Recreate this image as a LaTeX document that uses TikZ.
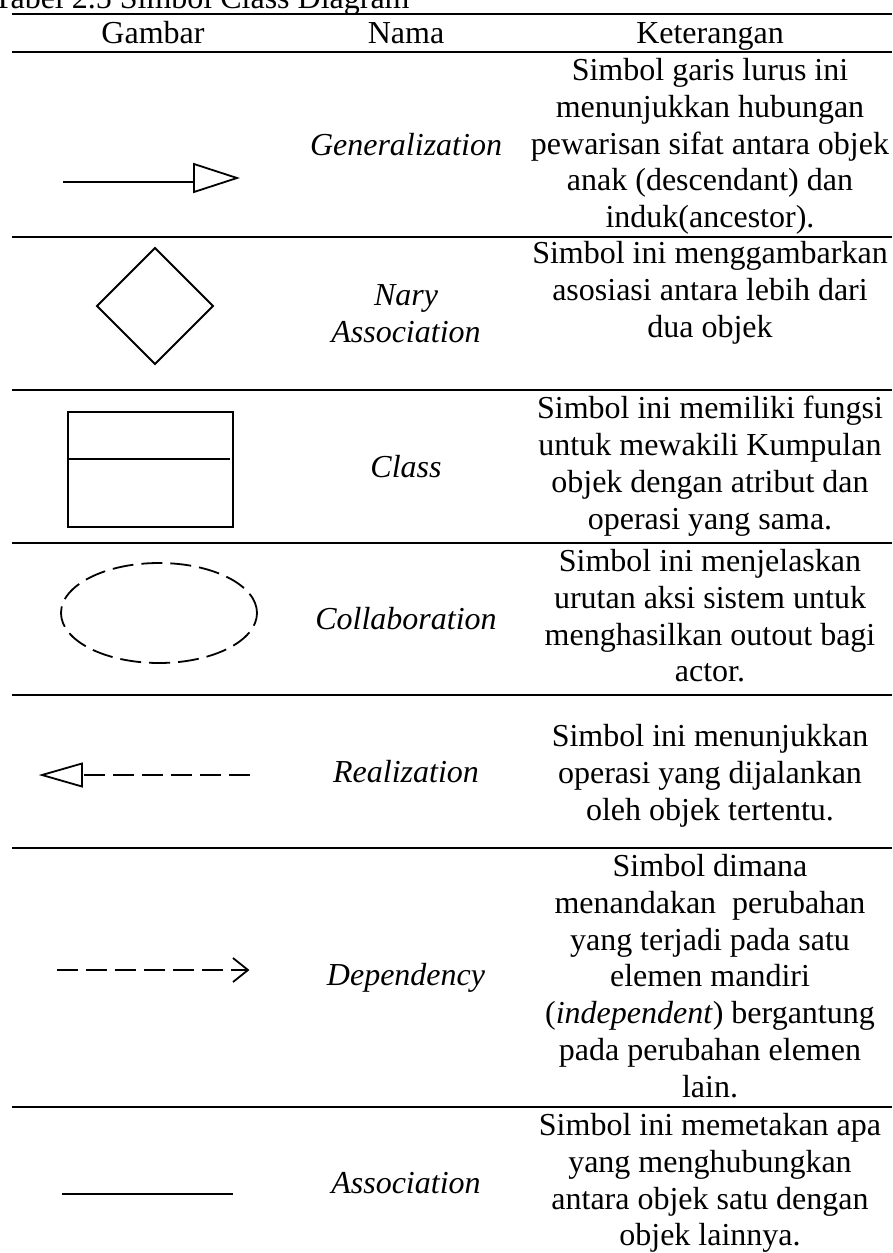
\documentclass[tikz,border=0pt]{standalone}
\usepackage{fontspec}
\setmainfont{Liberation Serif}
\begin{document}
\begin{tikzpicture}[x=1pt,y=-1pt,
  rule/.style={line width=2.2pt},
  sym/.style={line width=1.8pt},
  putus/.style={sym,dash pattern=on 21pt off 8pt},
  teks/.style={inner sep=0pt,font=\fontsize{32}{36.8}\selectfont},
  ket/.style={teks,align=center,anchor=north},
  nama/.style={teks,align=center,font=\fontsize{32}{36.8}\selectfont\itshape}]
\useasboundingbox (0,0) rectangle (892,1253);
\clip (0,0) rectangle (892,1253);
\def\kiri{12}
\def\kanan{892}
\def\kg{153}
\def\kn{406}
\def\kk{710}

\foreach \y in {14,52,237,390,543,695,848,1107}
  \draw[rule] (\kiri,\y) -- (\kanan,\y);

\node[teks,anchor=base west] (judul) at (-7,8) {Tabel 2.5 Simbol Class Diagram};
\node[teks,anchor=base] (gambar) at (\kg,43) {Gambar};
\node[teks,anchor=base] (namakol) at (\kn,43) {Nama};
\node[teks,anchor=base] (ketkol) at (\kk,43) {Keterangan};

% simbol
\coordinate (g0) at (63,182);
\coordinate (g1) at (194,182);
\draw[sym] (g0) -- (g1);
\draw[sym] (194,164) -- (237,178) -- (194,192) -- cycle;

\draw[sym] (155,248) -- (213,306) -- (155,364) -- (97,306) -- cycle;

\draw[sym] (68,412) rectangle (233,527);
\draw[sym] (67,459) -- (230,459);

\draw[putus] (159,613) ellipse [x radius=98pt,y radius=50pt];

\coordinate (r0) at (42,775);
\coordinate (r1) at (82,775);
\coordinate (r2) at (250,775);
\draw[sym] (r0) -- (82,763.5) -- (82,786.5) -- cycle;
\draw[putus] (r2) -- (r1);

\coordinate (d0) at (57,970);
\coordinate (d1) at (248,970);
\draw[putus] (d0) -- (d1);
\draw[sym] (233,958) -- (d1) -- (233,982);

\coordinate (a0) at (62,1194);
\coordinate (a1) at (233,1194);
\draw[sym] (a0) -- (a1);

% nama
\node[nama] (gen) at (\kn,144.5) {Generalization};
\node[nama] (nary) at (\kn,313.5) {Nary\\Association};
\node[nama] (cls) at (\kn,466.5) {Class};
\node[nama] (col) at (\kn,619) {Collaboration};
\node[nama] (rea) at (\kn,771.5) {Realization};
\node[nama] (dep) at (\kn,977.5) {Dependency};
\node[nama] (aso) at (\kn,1183) {Association};

% keterangan
\node[ket] (kgen) at (\kk,58) {Simbol garis lurus ini\\menunjukkan hubungan\\pewarisan sifat antara objek\\anak (descendant) dan\\induk(ancestor).};
\node[ket] (knary) at (\kk,241) {Simbol ini menggambarkan\\asosiasi antara lebih dari\\dua objek};
\node[ket] (kcls) at (\kk,396) {Simbol ini memiliki fungsi\\untuk mewakili Kumpulan\\objek dengan atribut dan\\operasi yang sama.};
\node[ket] (kcol) at (\kk,549) {Simbol ini menjelaskan\\urutan aksi sistem untuk\\menghasilkan outout bagi\\actor.};
\node[ket] (krea) at (\kk,724) {Simbol ini menunjukkan\\operasi yang dijalankan\\oleh objek tertentu.};
\node[ket] (kdep) at (\kk,854) {Simbol dimana\\menandakan~ perubahan\\yang terjadi pada satu\\elemen mandiri\\(\textit{independent}) bergantung\\pada perubahan elemen\\lain.};
\node[ket] (kaso) at (\kk,1113) {Simbol ini memetakan apa\\yang menghubungkan\\antara objek satu dengan\\objek lainnya.};

\end{tikzpicture}
\end{document}
